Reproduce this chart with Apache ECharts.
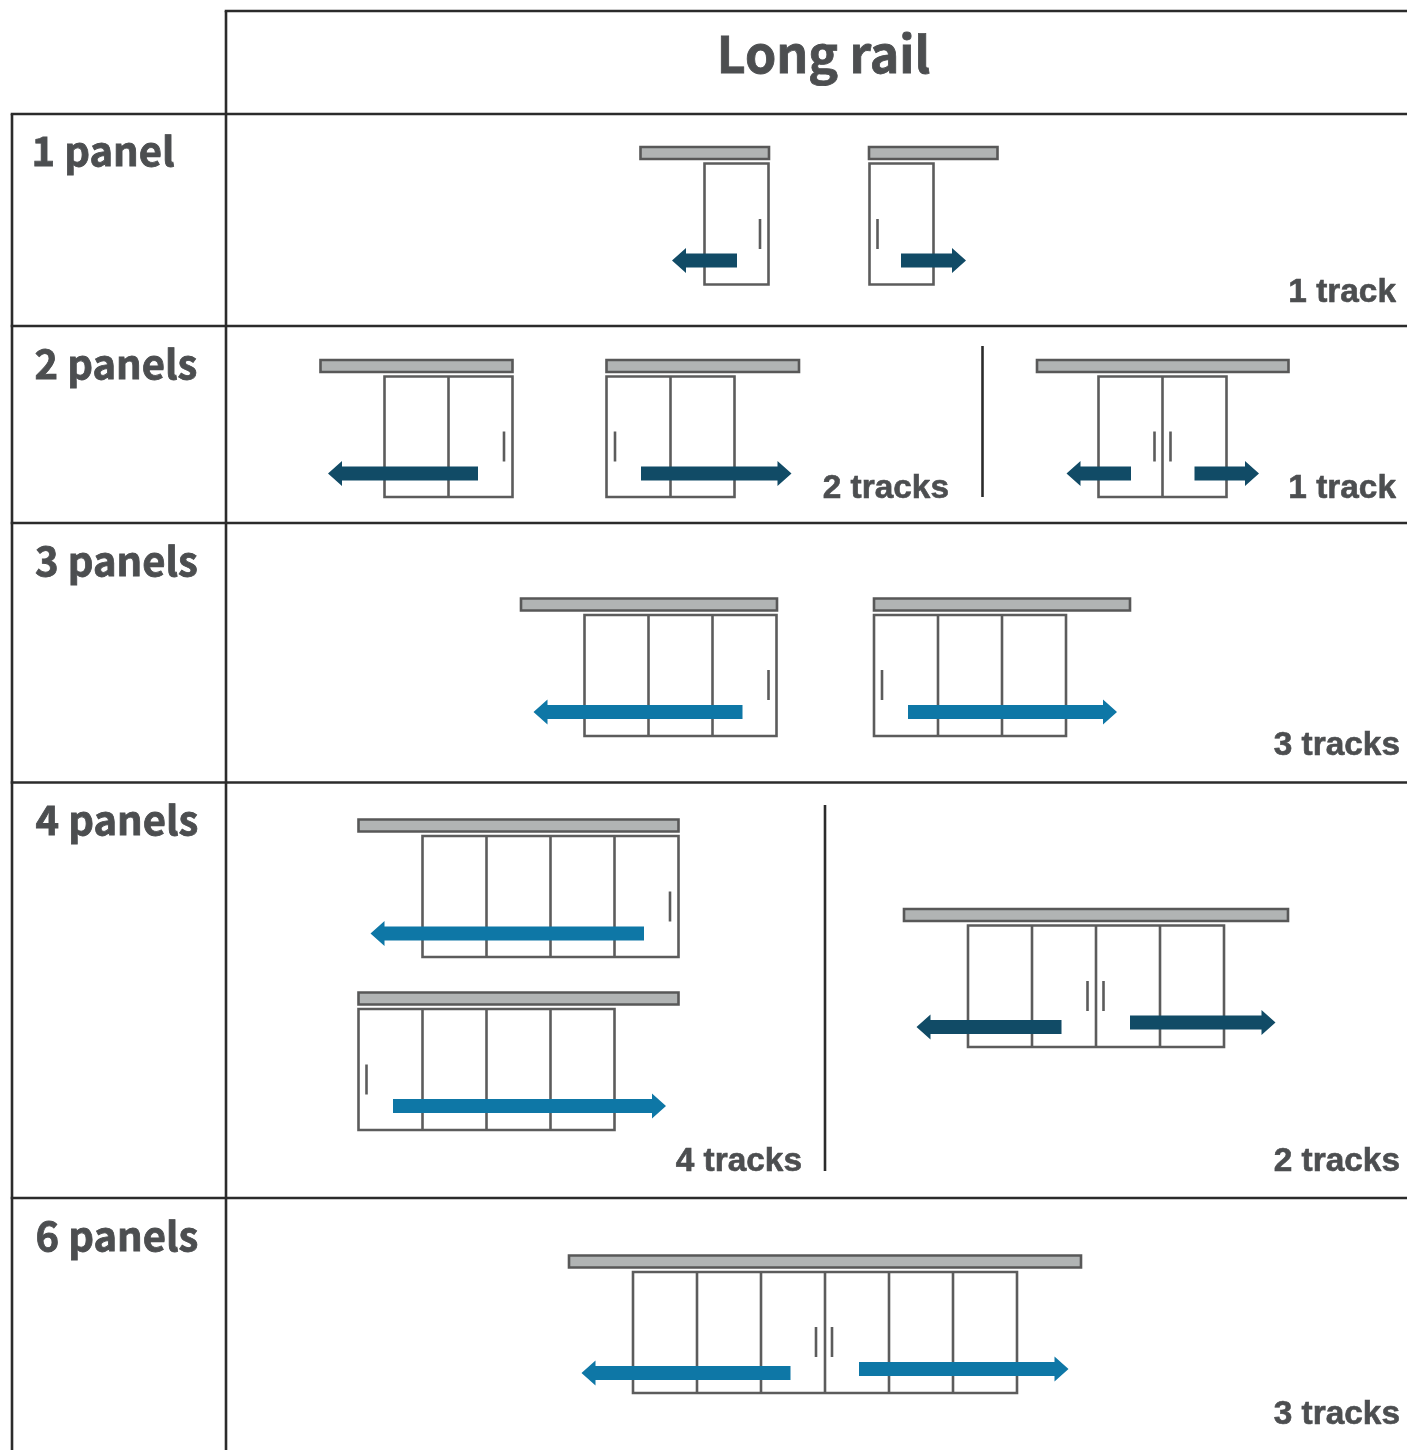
<!DOCTYPE html>
<html>
<head>
<meta charset="utf-8">
<title>Long rail</title>
<style>
  html, body { margin: 0; padding: 0; background: #fff; }
  #main { width: 1407px; height: 1450px; }
</style>
<script src="https://cdn.jsdelivr.net/npm/echarts@6/dist/echarts.min.js"></script>
</head>
<body>
<div id="main"></div>
<script>
// table rules: [x0, y0, x1, y1]
var tableLines = [
  [224.7, 11, 1407, 11],
  [10.7, 114, 1407, 114],
  [10.7, 326, 1407, 326],
  [10.7, 523, 1407, 523],
  [10.7, 782.5, 1407, 782.5],
  [10.7, 1198, 1407, 1198],
  [12, 114, 12, 1450],
  [226, 11, 226, 1450],
  [982.5, 346, 982.5, 497],
  [825, 805, 825, 1171]
];

// rails: [x0, y0, x1, y1]
var rails = [
  [640.5, 147, 769, 159],
  [869, 147, 997.5, 159],
  [320.5, 360, 512.5, 372],
  [606.5, 360, 799, 372],
  [1037, 360, 1288.5, 372],
  [521, 598.5, 777, 610.5],
  [874, 598.5, 1130, 610.5],
  [358.5, 819.5, 678.5, 831.5],
  [358.5, 992.5, 678.5, 1004.5],
  [904, 909, 1288, 921],
  [569, 1255.5, 1081, 1267.5]
];

// door sets: [x0, top, bottom, panel count]
var doorSets = [
  [704.5, 163.5, 284.5, 1],
  [869.5, 163.5, 284.5, 1],
  [384.5, 376.5, 497, 2],
  [606.5, 376.5, 497, 2],
  [1098.5, 376.5, 497, 2],
  [584.5, 615, 736, 3],
  [874, 615, 736, 3],
  [422.5, 836, 957, 4],
  [358.5, 1009, 1130, 4],
  [968, 925.5, 1047, 4],
  [633, 1272, 1393, 6]
];
var panelWidth = 64;

// handles: [x, top, bottom]
var handles = [
  [760, 219, 249],
  [877.5, 219, 249],
  [504, 431.5, 461.5],
  [615, 431.5, 461.5],
  [1154.5, 431.5, 461.5],
  [1170.5, 431.5, 461.5],
  [768.5, 670, 700],
  [882, 670, 700],
  [670, 891.5, 921.5],
  [366.5, 1064.5, 1094.5],
  [1087.5, 981, 1011],
  [1103.5, 981, 1011],
  [816, 1327, 1357],
  [832, 1327, 1357]
];

// arrows: [tail x, tip x, y]
var darkArrows = [
  [737, 672, 260.5],
  [901, 966, 260.5],
  [478, 328, 473.5],
  [641, 791.5, 473.5],
  [1131, 1066.5, 473.5],
  [1194.5, 1259, 473.5],
  [1061.5, 916.5, 1027],
  [1130, 1275.5, 1022.5]
];
var blueArrows = [
  [742.5, 533.5, 712],
  [908, 1117, 712],
  [644, 370.5, 933.5],
  [393, 666, 1106],
  [790.5, 581.5, 1373],
  [859, 1068.5, 1369]
];

// text: [x, y, label]
var titleLabel = [[823.5, 53.5, 'Long rail']];
var rowLabels = [
  [31.5, 151, '1 panel'],
  [34.5, 364, '2 panels'],
  [35, 561, '3 panels'],
  [35.5, 820, '4 panels'],
  [35.5, 1236, '6 panels']
];
var trackLabels = [
  [1396, 292.5, '1 track'],
  [949, 488.5, '2 tracks'],
  [1396, 488.5, '1 track'],
  [1400, 745.5, '3 tracks'],
  [802, 1161.5, '4 tracks'],
  [1400, 1161.5, '2 tracks'],
  [1400, 1415, '3 tracks']
];

var textColor = '#4c4e50';
var sansBold = '"Noto Sans CJK JP"';

function lineItem(color, width) {
  return function (params, api) {
    var a = api.coord([api.value(0), api.value(1)]);
    var b = api.coord([api.value(2), api.value(3)]);
    return {
      type: 'line',
      shape: { x1: a[0], y1: a[1], x2: b[0], y2: b[1] },
      style: { stroke: color, lineWidth: width }
    };
  };
}

function renderRail(params, api) {
  var a = api.coord([api.value(0), api.value(1)]);
  var b = api.coord([api.value(2), api.value(3)]);
  return {
    type: 'rect',
    shape: { x: a[0], y: a[1], width: b[0] - a[0], height: b[1] - a[1] },
    style: { fill: '#b1b4b4', stroke: '#585858', lineWidth: 2.6 }
  };
}

function renderDoors(params, api) {
  var x0 = api.value(0);
  var n = api.value(3);
  var top = api.coord([x0, api.value(1)]);
  var bottom = api.coord([x0 + n * panelWidth, api.value(2)]);
  var children = [{
    type: 'rect',
    shape: { x: top[0], y: top[1], width: bottom[0] - top[0], height: bottom[1] - top[1] },
    style: { fill: 'none', stroke: '#5c5c5c', lineWidth: 2.6 }
  }];
  for (var i = 1; i < n; i++) {
    var p = api.coord([x0 + i * panelWidth, 0]);
    children.push({
      type: 'line',
      shape: { x1: p[0], y1: top[1], x2: p[0], y2: bottom[1] },
      style: { stroke: '#5c5c5c', lineWidth: 2.6 }
    });
  }
  return { type: 'group', children: children };
}

function renderArrow(color) {
  return function (params, api) {
    var tail = api.value(0), tip = api.value(1), y = api.value(2);
    var dir = tip > tail ? 1 : -1;
    var neck = tip - dir * 14;
    var pts = [
      [tail, y - 7], [neck, y - 7], [neck, y - 12.5], [tip, y],
      [neck, y + 12.5], [neck, y + 7], [tail, y + 7]
    ].map(function (p) { return api.coord(p); });
    return { type: 'polygon', shape: { points: pts }, style: { fill: color } };
  };
}

function renderText(font, align, thicken) {
  return function (params, api) {
    var p = api.coord([api.value(0), api.value(1)]);
    return {
      type: 'text',
      style: {
        x: p[0], y: p[1],
        text: api.value(2),
        font: font,
        fill: textColor,
        stroke: textColor,
        lineWidth: thicken,
        align: align,
        verticalAlign: 'middle'
      }
    };
  };
}

function customSeries(data, renderItem) {
  return {
    type: 'custom',
    coordinateSystem: 'cartesian2d',
    data: data,
    renderItem: renderItem,
    clip: false,
    silent: true,
    animation: false
  };
}

var chart = echarts.init(document.getElementById('main'), null, { renderer: 'canvas' });

chart.setOption({
  backgroundColor: '#ffffff',
  animation: false,
  grid: { left: 0, right: 0, top: 0, bottom: 0 },
  xAxis: { type: 'value', min: 0, max: 1407, show: false },
  yAxis: { type: 'value', min: 0, max: 1450, inverse: true, show: false },
  series: [
    customSeries(doorSets, renderDoors),
    customSeries(rails, renderRail),
    customSeries(handles.map(function (h) { return [h[0], h[1], h[0], h[2]]; }), lineItem('#5c5c5c', 2.6)),
    customSeries(darkArrows, renderArrow('#114b66')),
    customSeries(blueArrows, renderArrow('#0e77a6')),
    customSeries(tableLines, lineItem('#2b2b2b', 2.6)),
    {
      type: 'custom', coordinateSystem: 'cartesian2d', silent: true, animation: false, clip: false,
      dimensions: ['x', 'y', { name: 'label', type: 'ordinal' }],
      data: titleLabel, renderItem: renderText('bold 50px ' + sansBold, 'center', 0.8)
    },
    {
      type: 'custom', coordinateSystem: 'cartesian2d', silent: true, animation: false, clip: false,
      dimensions: ['x', 'y', { name: 'label', type: 'ordinal' }],
      data: rowLabels, renderItem: renderText('bold 40px ' + sansBold, 'left', 0.8)
    },
    {
      type: 'custom', coordinateSystem: 'cartesian2d', silent: true, animation: false, clip: false,
      dimensions: ['x', 'y', { name: 'label', type: 'ordinal' }],
      data: trackLabels, renderItem: renderText('bold 33.4px "Liberation Sans"', 'right', 0.6)
    }
  ]
});
</script>
</body>
</html>
